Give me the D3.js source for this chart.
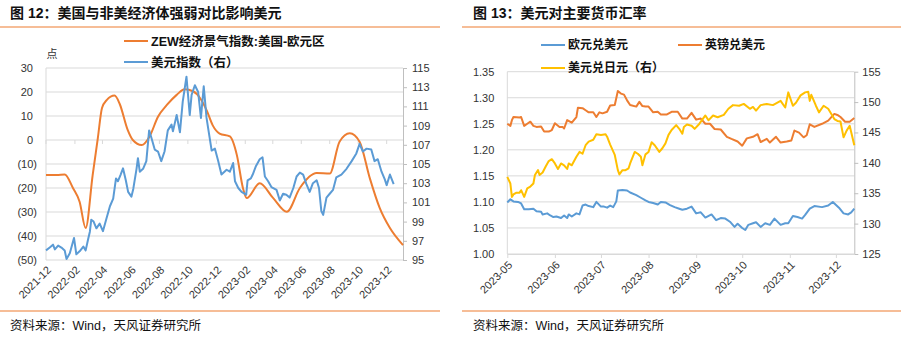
<!DOCTYPE html>
<html><head><meta charset="utf-8">
<script src="https://cdn.jsdelivr.net/npm/d3@7"></script>
<style>
body{margin:0;background:#fff;}
svg{display:block;font-family:"Liberation Sans","Noto Sans CJK SC",sans-serif;}
</style></head><body>
<svg id="c" width="908" height="341"></svg>
<script>
// ---------- DATA ----------
const leftTitle = "图 12：美国与非美经济体强弱对比影响美元";
const rightTitle = "图 13：美元对主要货币汇率";
const sourceText = "资料来源：Wind，天风证券研究所";
const leftLegend = ["ZEW经济景气指数:美国-欧元区", "美元指数（右）"];
const rightLegend = ["欧元兑美元", "英镑兑美元", "美元兑日元（右）"];
const leftUnit = "点";

const leftXTicks = ["2021-12","2022-02","2022-04","2022-06","2022-08","2022-10","2022-12","2023-02","2023-04","2023-06","2023-08","2023-10","2023-12"];
const leftYTicks = [30,20,10,0,-10,-20,-30,-40,-50];
const leftY2Ticks = [95,97,99,101,103,105,107,109,111,113,115];
const rightXTicks = ["2023-05","2023-06","2023-07","2023-08","2023-09","2023-10","2023-11","2023-12"];
const rightYTicks = [1.00,1.05,1.10,1.15,1.20,1.25,1.30,1.35];
const rightY2Ticks = [125,130,135,140,145,150,155];

// ZEW: US minus Eurozone (left axis)
const zewSeries = [
["2021-12-01",-14.6],["2021-12-24",-14.6],["2022-01-10",-14.4],["2022-01-28",-20.1],["2022-02-11",-25.7],
["2022-02-24",-36.7],["2022-03-11",-14.6],["2022-03-22",0.7],["2022-03-31",13.3],["2022-04-10",16.6],
["2022-04-27",18.5],["2022-05-08",15],["2022-05-25",4.2],["2022-06-05",0],["2022-06-24",-2.1],
["2022-07-11",1.5],["2022-07-29",9.7],["2022-08-17",14.6],["2022-09-07",18.8],["2022-09-24",21.1],
["2022-10-12",20.3],["2022-10-27",17.5],["2022-11-11",12],["2022-11-23",6.2],["2022-12-08",2.7],
["2022-12-30",1.5],["2023-01-14",-6.3],["2023-01-27",-20],["2023-02-04",-24.2],["2023-03-04",-18],
["2023-04-01",-24],["2023-05-01",-29.9],["2023-05-29",-20],["2023-07-04",-13.8],["2023-08-01",-14],
["2023-08-22",-0.7],["2023-09-13",2.8],["2023-10-04",-0.7],["2023-10-26",-16],["2023-11-16",-28.3],
["2023-12-08",-36.7],["2024-01-05",-43.8]];

// US dollar index (right axis)
const dxySeries = [
["2021-12-01",96.0],["2021-12-09",96.3],["2021-12-16",96.6],["2021-12-20",96.1],["2021-12-27",96.5],
["2022-01-03",96.3],["2022-01-10",96.0],["2022-01-14",95.1],["2022-01-21",95.7],["2022-01-30",97.3],
["2022-02-04",95.6],["2022-02-11",95.9],["2022-02-19",96.4],["2022-02-24",96.0],["2022-03-01",97.1],
["2022-03-05",97.95],["2022-03-08",99.2],["2022-03-13",99.0],["2022-03-19",98.3],["2022-03-26",98.8],
["2022-04-02",98.0],["2022-04-10",99.4],["2022-04-17",100.6],["2022-04-24",101.4],["2022-04-30",103.5],
["2022-05-04",103.2],["2022-05-10",103.9],["2022-05-15",104.55],["2022-05-21",103.3],["2022-05-26",102.1],
["2022-06-02",101.6],["2022-06-06",102.4],["2022-06-13",104.5],["2022-06-16",105.6],["2022-06-20",104.2],
["2022-06-27",104.5],["2022-07-04",105.3],["2022-07-10",108.5],["2022-07-15",107.7],["2022-07-22",106.5],
["2022-07-29",106.3],["2022-08-05",105.3],["2022-08-12",106.3],["2022-08-19",108.5],["2022-08-27",109.1],
["2022-08-30",108.4],["2022-09-07",110.1],["2022-09-14",108.3],["2022-09-20",111.5],["2022-09-28",114.1],
["2022-10-05",110.1],["2022-10-09",112.2],["2022-10-16",113.2],["2022-10-23",112.5],["2022-10-29",109.8],
["2022-11-04",113.1],["2022-11-10",109.8],["2022-11-21",106.4],["2022-11-28",106.6],["2022-12-05",105.3],
["2022-12-12",103.9],["2022-12-23",104.4],["2022-12-30",104.2],["2023-01-06",105.1],["2023-01-10",103.2],
["2023-01-17",102.5],["2023-01-24",102.1],["2023-02-03",101.8],["2023-02-06",103.3],["2023-02-13",103.5],
["2023-02-17",103.9],["2023-02-24",104.8],["2023-03-04",105.5],["2023-03-10",105.7],["2023-03-15",103.7],
["2023-03-22",103.2],["2023-03-29",102.6],["2023-04-09",102.3],["2023-04-16",101.2],["2023-04-23",101.9],
["2023-04-30",101.8],["2023-05-07",101.5],["2023-05-15",102.5],["2023-05-22",103.7],["2023-05-29",104.1],
["2023-06-05",103.9],["2023-06-12",102.9],["2023-06-19",102.1],["2023-06-26",103.0],["2023-07-04",103.3],
["2023-07-09",102.5],["2023-07-14",100.1],["2023-07-18",99.7],["2023-07-25",101.5],["2023-08-01",101.9],
["2023-08-08",102.3],["2023-08-15",103.6],["2023-08-26",103.9],["2023-09-06",104.5],["2023-09-17",105.3],
["2023-09-27",106.1],["2023-10-04",107.1],["2023-10-11",106.3],["2023-10-19",106.6],["2023-10-29",106.5],
["2023-11-05",105.3],["2023-11-12",105.5],["2023-11-20",104.2],["2023-11-27",103.4],["2023-12-01",102.8],
["2023-12-08",103.9],["2023-12-16",102.9]];

// EUR/USD (left axis)
const eurSeries = [
["2023-05-01",1.099],["2023-05-03",1.105],["2023-05-05",1.101],["2023-05-08",1.100],["2023-05-10",1.097],
["2023-05-12",1.086],["2023-05-15",1.086],["2023-05-18",1.087],["2023-05-20",1.082],["2023-05-23",1.081],
["2023-05-24",1.076],["2023-05-27",1.078],["2023-05-29",1.074],["2023-05-31",1.071],["2023-06-02",1.072],
["2023-06-05",1.069],["2023-06-07",1.074],["2023-06-09",1.069],["2023-06-10",1.076],["2023-06-12",1.072],
["2023-06-15",1.078],["2023-06-17",1.076],["2023-06-19",1.093],["2023-06-21",1.095],["2023-06-23",1.092],
["2023-06-26",1.090],["2023-06-28",1.100],["2023-07-01",1.091],["2023-07-03",1.091],["2023-07-05",1.089],
["2023-07-07",1.093],["2023-07-09",1.090],["2023-07-11",1.101],["2023-07-12",1.122],["2023-07-15",1.123],
["2023-07-18",1.122],["2023-07-20",1.118],["2023-07-24",1.113],["2023-07-27",1.108],["2023-07-30",1.103],
["2023-08-01",1.100],["2023-08-04",1.098],["2023-08-07",1.095],["2023-08-09",1.100],["2023-08-12",1.099],
["2023-08-15",1.094],["2023-08-18",1.090],["2023-08-21",1.087],["2023-08-23",1.085],["2023-08-26",1.087],
["2023-08-29",1.091],["2023-09-01",1.078],["2023-09-04",1.080],["2023-09-07",1.070],["2023-09-11",1.076],
["2023-09-14",1.065],["2023-09-17",1.069],["2023-09-20",1.068],["2023-09-23",1.062],["2023-09-26",1.052],
["2023-09-28",1.058],["2023-10-01",1.050],["2023-10-03",1.046],["2023-10-05",1.056],["2023-10-08",1.059],
["2023-10-10",1.061],["2023-10-13",1.052],["2023-10-16",1.059],["2023-10-19",1.056],["2023-10-22",1.068],
["2023-10-26",1.056],["2023-10-29",1.059],["2023-10-31",1.059],["2023-11-03",1.073],["2023-11-06",1.071],
["2023-11-09",1.068],["2023-11-11",1.075],["2023-11-14",1.087],["2023-11-17",1.092],["2023-11-22",1.090],
["2023-11-26",1.093],["2023-11-29",1.100],["2023-12-03",1.089],["2023-12-06",1.078],["2023-12-09",1.076],
["2023-12-11",1.080],["2023-12-13",1.087]];

// GBP/USD (left axis)
const gbpSeries = [
["2023-05-01",1.250],["2023-05-03",1.246],["2023-05-04",1.257],["2023-05-05",1.263],["2023-05-09",1.262],
["2023-05-10",1.263],["2023-05-12",1.246],["2023-05-14",1.250],["2023-05-16",1.254],["2023-05-18",1.246],
["2023-05-20",1.244],["2023-05-23",1.245],["2023-05-25",1.235],["2023-05-28",1.235],["2023-05-30",1.238],
["2023-06-01",1.251],["2023-06-04",1.244],["2023-06-06",1.244],["2023-06-07",1.241],["2023-06-09",1.257],
["2023-06-12",1.252],["2023-06-15",1.263],["2023-06-16",1.281],["2023-06-19",1.280],["2023-06-21",1.276],
["2023-06-23",1.272],["2023-06-26",1.272],["2023-06-28",1.263],["2023-06-30",1.272],["2023-07-02",1.270],
["2023-07-05",1.273],["2023-07-07",1.285],["2023-07-10",1.286],["2023-07-12",1.313],["2023-07-14",1.308],
["2023-07-16",1.306],["2023-07-18",1.295],["2023-07-20",1.286],["2023-07-24",1.283],["2023-07-26",1.292],
["2023-07-28",1.284],["2023-07-30",1.283],["2023-08-01",1.283],["2023-08-04",1.272],["2023-08-07",1.273],
["2023-08-09",1.268],["2023-08-13",1.268],["2023-08-16",1.273],["2023-08-20",1.273],["2023-08-23",1.260],
["2023-08-26",1.260],["2023-08-29",1.271],["2023-09-01",1.258],["2023-09-04",1.260],["2023-09-07",1.250],
["2023-09-10",1.250],["2023-09-13",1.240],["2023-09-17",1.239],["2023-09-21",1.225],["2023-09-24",1.221],
["2023-09-28",1.216],["2023-10-01",1.208],["2023-10-04",1.222],["2023-10-08",1.225],["2023-10-11",1.230],
["2023-10-13",1.215],["2023-10-17",1.221],["2023-10-19",1.214],["2023-10-23",1.225],["2023-10-26",1.214],
["2023-10-30",1.216],["2023-11-02",1.218],["2023-11-04",1.237],["2023-11-07",1.233],["2023-11-10",1.224],
["2023-11-12",1.228],["2023-11-14",1.249],["2023-11-17",1.244],["2023-11-22",1.250],["2023-11-26",1.256],
["2023-11-30",1.269],["2023-12-02",1.267],["2023-12-04",1.263],["2023-12-07",1.254],["2023-12-10",1.254],
["2023-12-13",1.261]];

// USD/JPY (right axis)
const jpySeries = [
["2023-05-01",137.7],["2023-05-03",136.6],["2023-05-04",134.4],["2023-05-05",134.8],["2023-05-07",135.1],
["2023-05-09",135.1],["2023-05-10",135.5],["2023-05-12",134.4],["2023-05-14",135.8],["2023-05-16",136.1],
["2023-05-18",136.6],["2023-05-19",138.0],["2023-05-21",138.8],["2023-05-22",138.0],["2023-05-24",138.4],
["2023-05-26",139.4],["2023-05-28",140.3],["2023-05-30",140.6],["2023-06-01",139.9],["2023-06-03",139.0],
["2023-06-05",139.9],["2023-06-07",139.6],["2023-06-09",139.0],["2023-06-10",139.9],["2023-06-12",139.6],
["2023-06-15",141.0],["2023-06-17",141.8],["2023-06-19",141.5],["2023-06-21",142.9],["2023-06-23",143.5],
["2023-06-26",143.8],["2023-06-28",144.7],["2023-07-01",144.6],["2023-07-04",144.7],["2023-07-05",144.3],
["2023-07-07",143.0],["2023-07-10",141.3],["2023-07-12",138.8],["2023-07-13",138.1],["2023-07-15",138.8],
["2023-07-17",138.8],["2023-07-19",139.1],["2023-07-20",139.9],["2023-07-23",141.8],["2023-07-25",141.5],
["2023-07-27",141.0],["2023-07-28",139.6],["2023-07-30",141.4],["2023-08-01",141.8],["2023-08-03",143.4],
["2023-08-05",142.9],["2023-08-08",141.8],["2023-08-10",142.4],["2023-08-12",143.2],["2023-08-14",144.6],
["2023-08-16",145.4],["2023-08-19",146.2],["2023-08-21",145.6],["2023-08-23",144.8],["2023-08-24",145.9],
["2023-08-26",146.3],["2023-08-29",146.1],["2023-08-31",145.6],["2023-09-03",146.4],["2023-09-07",147.8],
["2023-09-09",147.0],["2023-09-12",147.8],["2023-09-15",147.5],["2023-09-19",147.9],["2023-09-22",148.9],
["2023-09-25",149.5],["2023-09-29",149.4],["2023-10-02",149.7],["2023-10-06",148.9],["2023-10-08",149.2],
["2023-10-10",148.6],["2023-10-13",149.5],["2023-10-17",149.7],["2023-10-21",149.5],["2023-10-26",150.2],
["2023-10-29",149.1],["2023-10-31",151.6],["2023-11-03",149.4],["2023-11-05",149.9],["2023-11-08",151.1],
["2023-11-11",151.6],["2023-11-13",151.7],["2023-11-14",150.2],["2023-11-15",151.2],["2023-11-18",149.4],
["2023-11-20",148.3],["2023-11-23",149.4],["2023-11-26",148.9],["2023-11-30",147.2],["2023-12-02",146.9],
["2023-12-04",146.8],["2023-12-06",144.2],["2023-12-08",145.3],["2023-12-10",146.1],["2023-12-13",142.9]];

// ---------- STYLE ----------
const C_ORANGE = "#ED7D31", C_BLUE = "#5B9BD5", C_YELLOW = "#FFC000";
const C_GRID = "#d9d9d9", C_AXIS = "#bfbfbf", C_TEXT = "#333", C_RULE = "#ED7D31";

const svg = d3.select("#c");
const parse = d3.timeParse("%Y-%m-%d");
const parseM = d3.timeParse("%Y-%m");
const toPts = s => s.map(([d, v]) => ({date: parse(d), v}));

// ---------- headers/footers ----------
function frame(x0, x1, tx, title) {
  svg.append("text").attr("x", tx).attr("y", 18).attr("font-size", 14).attr("font-weight", "bold")
     .attr("fill", "#111").text(title);
  svg.append("line").attr("x1", x0).attr("x2", x1).attr("y1", 27).attr("y2", 27)
     .attr("stroke", C_RULE).attr("stroke-width", 1.2);
  svg.append("line").attr("x1", x0).attr("x2", x1).attr("y1", 311).attr("y2", 311)
     .attr("stroke", C_RULE).attr("stroke-width", 1.2);
  svg.append("text").attr("x", tx).attr("y", 330).attr("font-size", 12.5).attr("fill", "#111").text(sourceText);
}
frame(0, 440, 10, leftTitle);
frame(462, 901, 473, rightTitle);

function legendItem(x, y, color, label, fs) {
  svg.append("line").attr("x1", x).attr("x2", x + 24).attr("y1", y).attr("y2", y)
     .attr("stroke", color).attr("stroke-width", 2);
  svg.append("text").attr("x", x + 27).attr("y", y).attr("dy", "0.36em").attr("font-size", fs)
     .attr("font-weight", "bold").attr("fill", "#111").text(label);
}

function xLabels(g, scale, labels, y) {
  g.selectAll("text.xl").data(labels).join("text").attr("class", "xl")
   .attr("transform", d => `translate(${scale(parseM(d)) + 3},${y}) rotate(-45)`)
   .attr("text-anchor", "end").attr("dy", "0.35em").attr("font-size", 11).attr("fill", C_TEXT).text(d => d);
}

// ---------- LEFT CHART ----------
{
  const x0 = 46, x1 = 403, yT = 68, yB = 260;
  const x = d3.scaleTime().domain([parse("2021-12-01"), parse("2024-01-05")]).range([x0, x1]);
  const y = d3.scaleLinear().domain([-50, 30]).range([yB, yT]);
  const y2 = d3.scaleLinear().domain([95, 115]).range([yB, yT]);
  const g = svg.append("g");

  g.selectAll("line.grid").data(leftYTicks).join("line").attr("class", "grid")
   .attr("x1", x0).attr("x2", x1).attr("y1", d => y(d)).attr("y2", d => y(d))
   .attr("stroke", C_GRID).attr("stroke-width", 1);
  g.append("line").attr("x1", x0).attr("x2", x0).attr("y1", yT).attr("y2", yB).attr("stroke", C_GRID);
  // category ticks on zero line
  g.selectAll("line.zt").data(leftXTicks).join("line").attr("class", "zt")
   .attr("x1", d => x(parseM(d))).attr("x2", d => x(parseM(d)))
   .attr("y1", y(0)).attr("y2", y(0) + 4).attr("stroke", C_GRID);

  const ax = g.append("g").attr("transform", `translate(${x0},0)`)
    .call(d3.axisLeft(y).tickValues(leftYTicks).tickSize(0)
      .tickFormat(d => d < 0 ? `(${-d})` : `${d}`));
  ax.select(".domain").remove();
  ax.selectAll("text").attr("font-size", 11).attr("fill", C_TEXT).attr("font-family", null)
    .attr("x", d => d < 0 ? -9 : -13);

  const ax2 = g.append("g").attr("transform", `translate(${x1},0)`)
    .call(d3.axisRight(y2).tickValues(leftY2Ticks).tickSize(4).tickSizeOuter(0).tickPadding(5));
  ax2.select(".domain").attr("stroke", C_AXIS);
  ax2.selectAll("line").attr("stroke", C_AXIS);
  ax2.selectAll("text").attr("font-size", 11).attr("fill", C_TEXT).attr("font-family", null);

  xLabels(g, x, leftXTicks, 268);

  svg.append("text").attr("x", 52).attr("y", 58).attr("text-anchor", "middle").attr("font-size", 11)
     .attr("fill", C_TEXT).text(leftUnit);

  g.append("path").datum(toPts(zewSeries)).attr("fill", "none").attr("stroke", C_ORANGE)
   .attr("stroke-width", 2).attr("d", d3.line().x(d => x(d.date)).y(d => y(d.v)).curve(d3.curveMonotoneX));
  g.append("path").datum(toPts(dxySeries)).attr("fill", "none").attr("stroke", C_BLUE)
   .attr("stroke-width", 2).attr("stroke-linejoin", "round")
   .attr("d", d3.line().x(d => x(d.date)).y(d => y2(d.v)));

  legendItem(124, 41, C_ORANGE, leftLegend[0], 12.5);
  legendItem(124, 62, C_BLUE, leftLegend[1], 12.5);
}

// ---------- RIGHT CHART ----------
{
  const x0 = 507.3, x1 = 854.3, yT = 71.7, yB = 254;
  const x = d3.scaleTime().domain([parse("2023-05-01"), parse("2023-12-13")]).range([x0, x1]);
  const y = d3.scaleLinear().domain([1.00, 1.35]).range([yB, yT]);
  const y2 = d3.scaleLinear().domain([125, 155]).range([yB, yT]);
  const g = svg.append("g");

  g.selectAll("line.grid").data(rightYTicks).join("line").attr("class", "grid")
   .attr("x1", x0).attr("x2", x1).attr("y1", d => y(d)).attr("y2", d => y(d))
   .attr("stroke", C_GRID).attr("stroke-width", 1);
  g.append("line").attr("x1", x0).attr("x2", x0).attr("y1", yT).attr("y2", yB).attr("stroke", C_GRID);

  const ax = g.append("g").attr("transform", `translate(${x0},0)`)
    .call(d3.axisLeft(y).tickValues(rightYTicks).tickSize(0).tickPadding(13).tickFormat(d3.format(".2f")));
  ax.select(".domain").remove();
  ax.selectAll("text").attr("font-size", 11).attr("fill", C_TEXT).attr("font-family", null);

  const ax2 = g.append("g").attr("transform", `translate(${x1},0)`)
    .call(d3.axisRight(y2).tickValues(rightY2Ticks).tickSize(4).tickSizeOuter(0).tickPadding(4));
  ax2.select(".domain").attr("stroke", C_AXIS);
  ax2.selectAll("line").attr("stroke", C_AXIS);
  ax2.selectAll("text").attr("font-size", 11).attr("fill", C_TEXT).attr("font-family", null);

  const axb = g.append("g").attr("transform", `translate(0,${yB})`)
    .call(d3.axisBottom(x).tickValues(rightXTicks.map(parseM)).tickSize(4).tickSizeOuter(0).tickFormat(""));
  axb.select(".domain").attr("stroke", C_GRID);
  axb.selectAll("line").attr("stroke", C_GRID);

  xLabels(g, x, rightXTicks, 263);

  const line = sc => d3.line().x(d => x(d.date)).y(d => sc(d.v));
  g.append("path").datum(toPts(eurSeries)).attr("fill", "none").attr("stroke", C_BLUE)
   .attr("stroke-width", 2).attr("stroke-linejoin", "round").attr("d", line(y));
  g.append("path").datum(toPts(gbpSeries)).attr("fill", "none").attr("stroke", C_ORANGE)
   .attr("stroke-width", 2).attr("stroke-linejoin", "round").attr("d", line(y));
  g.append("path").datum(toPts(jpySeries)).attr("fill", "none").attr("stroke", C_YELLOW)
   .attr("stroke-width", 2).attr("stroke-linejoin", "round").attr("d", line(y2));

  legendItem(541, 45, C_BLUE, rightLegend[0], 12);
  legendItem(678, 45, C_ORANGE, rightLegend[1], 12);
  legendItem(541, 68, C_YELLOW, rightLegend[2], 12);
}
</script>
</body></html>
